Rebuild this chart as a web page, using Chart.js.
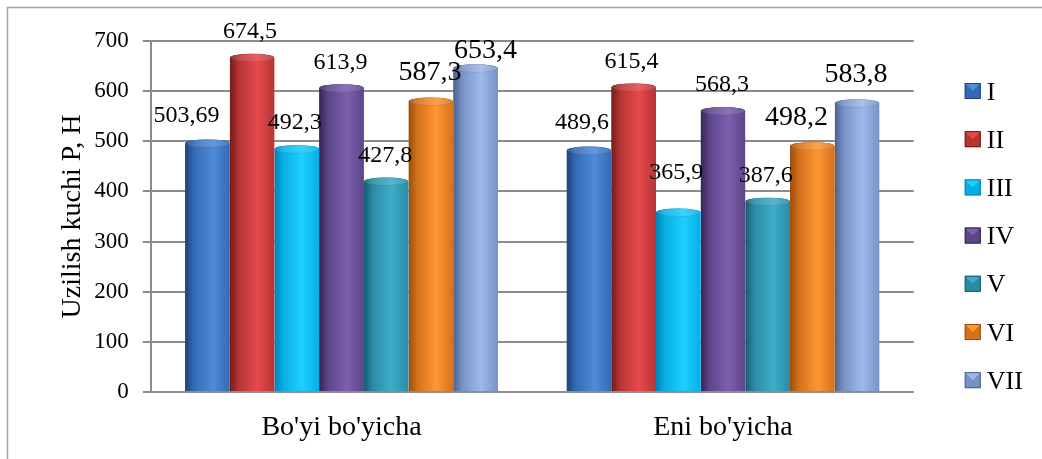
<!DOCTYPE html>
<html>
<head>
<meta charset="utf-8">
<title>Uzilish kuchi</title>
<script src="https://cdn.jsdelivr.net/npm/chart.js@4.4.0/dist/chart.umd.min.js"></script>
<style>
  html, body { margin: 0; padding: 0; background: #fff; }
  canvas { display: block; }
</style>
</head>
<body>
<canvas id="chart" width="1042" height="459"></canvas>
<script>
// data
const categories = ["Bo'yi bo'yicha", "Eni bo'yicha"]
const seriesNames = ['I', 'II', 'III', 'IV', 'V', 'VI', 'VII']
const seriesI = [503.69, 489.6]
const seriesII = [674.5, 615.4]
const seriesIII = [492.3, 365.9]
const seriesIV = [613.9, 568.3]
const seriesV = [427.8, 387.6]
const seriesVI = [587.3, 498.2]
const seriesVII = [653.4, 583.8]
const yTicks = [0, 100, 200, 300, 400, 500, 600, 700]

const allSeries = [seriesI, seriesII, seriesIII, seriesIV, seriesV, seriesVI, seriesVII]

// styles: [left edge, highlight, body] per series
const shades = [
  ['#1d4477', '#4e8bd8', '#336ab4'],
  ['#741b1b', '#e84a4c', '#b53434'],
  ['#0083b6', '#1dcfff', '#08aee6'],
  ['#342554', '#7e5fae', '#5c4589'],
  ['#185a6d', '#3dadc8', '#2b8ba7'],
  ['#9a4e0c', '#ff9634', '#d4711c'],
  ['#4a618e', '#9db9e9', '#7892c6']
]
const labelSizes = [24, 24, 24, 24, 24, 28, 28]
// where each value label sits relative to its bar top (dx, dy)
const labelShift = [
  [[-21, -25], [-7, -25]],
  [[-2, -24], [-2, -23]],
  [[-2, -24], [-2, -37]],
  [[-1, -23], [-1, -24]],
  [[-1, -23], [-2, -24]],
  [[-1, -27], [-16, -26]],
  [[10, -16], [-1, -27]]
]

const FONT = "'Times New Roman', 'Liberation Serif', serif"
const GRID = '#8c8c8c'
const capRy = 4

Chart.defaults.font.family = FONT
Chart.defaults.color = '#000'

function barGradient(ctx, x0, x1, s) {
  const g = ctx.createLinearGradient(x0, 0, x1, 0)
  g.addColorStop(0, s[0])
  g.addColorStop(0.2, s[2])
  g.addColorStop(0.62, s[1])
  g.addColorStop(1, s[2])
  return g
}

function silhouette(ctx, bar) {
  const half = bar.width / 2
  ctx.rect(bar.x - half, bar.y + capRy, bar.width, bar.base - bar.y - capRy)
  ctx.moveTo(bar.x + half, bar.y + capRy)
  ctx.ellipse(bar.x, bar.y + capRy, half, capRy, 0, 0, Math.PI * 2)
}

// round bars into cylinders with a cap on top
const cylinders = {
  id: 'cylinders',
  beforeDatasetDraw(chart, args) {
    const ctx = chart.ctx
    ctx.save()
    ctx.beginPath()
    args.meta.data.forEach(bar => silhouette(ctx, bar))
    ctx.clip()
  },
  afterDatasetDraw(chart, args) {
    const ctx = chart.ctx
    const s = shades[args.index]
    args.meta.data.forEach(bar => {
      const half = bar.width / 2
      ctx.beginPath()
      silhouette(ctx, bar)
      ctx.fillStyle = barGradient(ctx, bar.x - half, bar.x + half, s)
      ctx.fill()
    })
    ctx.restore()
    args.meta.data.forEach(bar => {
      const half = bar.width / 2
      ctx.beginPath()
      ctx.ellipse(bar.x, bar.y + capRy, half - 0.5, capRy, 0, 0, Math.PI * 2)
      ctx.fillStyle = barGradient(ctx, bar.x - half, bar.x + half, s)
      ctx.fill()
      ctx.fillStyle = 'rgba(255,255,255,0.12)'
      ctx.fill()
      ctx.lineWidth = 1
      ctx.strokeStyle = 'rgba(0,0,0,0.08)'
      ctx.stroke()
    })
  }
}

// value labels, comma decimals as in the source
const valueLabels = {
  id: 'valueLabels',
  afterDatasetsDraw(chart) {
    const ctx = chart.ctx
    ctx.save()
    ctx.fillStyle = '#000'
    ctx.textAlign = 'center'
    ctx.textBaseline = 'alphabetic'
    chart.data.datasets.forEach((ds, di) => {
      const size = labelSizes[di]
      ctx.font = size + 'px ' + FONT
      chart.getDatasetMeta(di).data.forEach((bar, i) => {
        const [dx, dy] = labelShift[di][i]
        const text = String(ds.data[i]).replace('.', ',')
        ctx.fillText(text, bar.x + dx, bar.y + dy + size * 0.33)
      })
    })
    ctx.restore()
  }
}

// legend at the right with bevelled square markers
const sideLegend = {
  id: 'sideLegend',
  afterDraw(chart) {
    const ctx = chart.ctx
    const left = chart.chartArea.right + 51
    const top = 91
    const step = 48.2
    const box = 16
    ctx.save()
    ctx.font = '26px ' + FONT
    ctx.textAlign = 'left'
    ctx.textBaseline = 'alphabetic'
    chart.data.datasets.forEach((ds, i) => {
      const s = shades[i]
      const cy = top + step * i
      const x = left, y = cy - box / 2
      ctx.fillStyle = s[2]
      ctx.fillRect(x, y, box, box)
      // lighter upper bevel
      ctx.beginPath()
      ctx.moveTo(x, y)
      ctx.lineTo(x + box, y)
      ctx.lineTo(x + box / 2, y + box / 2)
      ctx.closePath()
      ctx.fillStyle = s[1]
      ctx.fill()
      ctx.strokeStyle = s[0]
      ctx.lineWidth = 1
      ctx.strokeRect(x + 0.5, y + 0.5, box - 1, box - 1)
      ctx.fillStyle = '#000'
      ctx.fillText(ds.label, x + box + 6, cy + 26 * 0.33)
    })
    ctx.restore()
  }
}

// outer frame (only top and left edges are inside the picture)
const frame = {
  id: 'frame',
  beforeDraw(chart) {
    const ctx = chart.ctx
    ctx.save()
    ctx.strokeStyle = '#a3a3a3'
    ctx.lineWidth = 1.5
    ctx.beginPath()
    ctx.moveTo(7.5, chart.height)
    ctx.lineTo(7.5, 7.5)
    ctx.lineTo(chart.width, 7.5)
    ctx.stroke()
    ctx.restore()
  }
}

const datasets = allSeries.map((values, i) => ({
  label: seriesNames[i],
  data: values,
  backgroundColor: shades[i][2],
  borderWidth: 0,
  categoryPercentage: 0.82,
  barPercentage: 1.0
}))

new Chart(document.getElementById('chart'), {
  type: 'bar',
  data: { labels: categories, datasets },
  options: {
    responsive: false,
    devicePixelRatio: 1,
    animation: false,
    layout: { padding: { left: 0, top: 41, right: 128.25, bottom: 0 } },
    plugins: {
      legend: { display: false },
      tooltip: { enabled: false }
    },
    scales: {
      x: {
        grid: { display: false, drawTicks: false },
        border: { display: false },
        ticks: { font: { size: 28 }, padding: 19, color: '#000' },
        afterFit(scale) { scale.height = 67 }
      },
      y: {
        min: yTicks[0],
        max: yTicks[yTicks.length - 1],
        grid: { color: GRID, lineWidth: 2, tickLength: 8 },
        border: { color: GRID, width: 2 },
        ticks: { stepSize: yTicks[1] - yTicks[0], font: { size: 23 }, padding: 14, color: '#000' },
        title: {
          display: true,
          text: 'Uzilish kuchi P, H',
          font: { size: 28 },
          color: '#000',
          padding: { top: 56, bottom: 0 }
        },
        afterFit(scale) { scale.width = 150.75 }
      }
    }
  },
  plugins: [frame, cylinders, valueLabels, sideLegend]
})
</script>
</body>
</html>
